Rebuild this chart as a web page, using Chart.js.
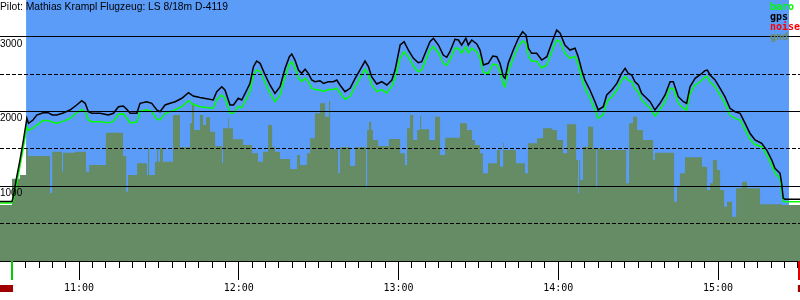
<!DOCTYPE html>
<html>
<head>
<meta charset="utf-8">
<title>Barogramm D-4119</title>
<script src="https://cdn.jsdelivr.net/npm/chart.js@4.4.1/dist/chart.umd.min.js"></script>
<style>
    html, body { margin: 0; padding: 0; background: #fff; }
    #wrap { width: 800px; height: 300px; }
</style>
</head>
<body>
<div id="wrap"><canvas id="baroChart" width="800" height="300"></canvas></div>
<script>
var pilotTitle = 'Pilot: Mathias Krampl Flugzeug: LS 8/18m D-4119';
var legendNames = ['baro', 'gps', 'noise', 'gnd'];
var hourTicks = ['11:00', '12:00', '13:00', '14:00', '15:00'];
var altTicks = [0, 1000, 2000, 3000];
var halfTicks = [500, 1500, 2500];

// times are minutes since midnight
var timeStart = 630.3, timeEnd = 930.8;
var altMax = 3495;
var flightStart = 640.1, flightEnd = 926.7;
var takeoffTime = 634.9, landingTime = 930.3;
var noiseSpans = [[630.3, 635.2], [930.0, 930.8]];

var trackTime = [
    630.3, 634.8, 635.3, 636.6, 637.8, 639.1, 640.4, 641.0, 642.7, 644.1,
    646.5, 648.4, 649.9, 651.6, 654.0, 656.6, 659.1, 661.0, 662.3, 663.5,
    664.8, 667.9, 671.0, 672.9, 674.8, 676.6, 677.9, 679.2, 681.7, 682.9,
    685.4, 687.3, 689.2, 690.4, 692.3, 694.2, 696.1, 698.6, 701.1, 702.9,
    705.4, 710.4, 711.7, 713.6, 714.8, 716.7, 718.0, 719.8, 721.1, 723.0,
    724.2, 725.5, 726.7, 728.0, 729.9, 731.7, 733.6, 735.5, 737.4, 739.0,
    739.9, 741.1, 742.4, 743.6, 744.9, 746.1, 747.4, 748.6, 750.5, 751.8,
    753.6, 755.5, 756.8, 758.0, 759.9, 761.8, 763.7, 765.5, 767.4, 768.7,
    769.9, 771.8, 773.7, 775.6, 777.5, 778.7, 780.6, 782.1, 783.7, 785.6,
    787.4, 788.7, 790.0, 791.8, 793.1, 795.0, 796.8, 798.1, 799.3, 801.2,
    802.5, 803.7, 805.3, 806.2, 807.5, 809.4, 810.6, 811.9, 813.7, 815.4,
    816.9, 818.1, 819.4, 820.0, 821.2, 823.1, 825.0, 826.6, 827.9, 828.8,
    830.0, 831.9, 833.8, 835.7, 837.5, 839.4, 840.7, 842.5, 844.4, 846.3,
    847.5, 848.8, 850.0, 851.9, 853.8, 855.0, 856.9, 858.2, 860.1, 862.0,
    863.8, 865.1, 866.3, 867.6, 868.8, 870.1, 871.3, 872.6, 874.5, 876.3,
    878.2, 880.1, 882.0, 883.2, 885.1, 887.0, 888.2, 889.5, 891.4, 893.2,
    895.1, 896.0, 897.0, 898.9, 900.8, 902.6, 904.5, 906.4, 908.3, 910.2,
    912.0, 913.9, 916.4, 918.3, 920.2, 921.4, 923.3, 923.9, 924.5, 925.2,
    930.8
];

var gpsAlt = [
    797, 797, 861, 1129, 1352, 1620, 1911, 1844, 1888, 1955,
    1986, 1986, 1955, 1955, 1982, 2022, 2089, 2146, 2112, 1999,
    1978, 1978, 1955, 1978, 2066, 2075, 2031, 1978, 1978, 2112,
    2133, 2112, 2022, 1999, 2089, 2112, 2133, 2179, 2254, 2209,
    2189, 2156, 2267, 2334, 2290, 2089, 2089, 2179, 2156, 2290,
    2379, 2602, 2678, 2647, 2491, 2357, 2245, 2334, 2580, 2736,
    2772, 2691, 2557, 2513, 2567, 2513, 2424, 2401, 2414, 2379,
    2401, 2401, 2424, 2357, 2267, 2312, 2446, 2557, 2678, 2602,
    2468, 2370, 2401, 2357, 2424, 2557, 2892, 2936, 2825, 2714,
    2655, 2669, 2781, 2936, 2982, 2892, 2758, 2728, 2803, 2969,
    2959, 2892, 2982, 2892, 2959, 2906, 2825, 2624, 2647, 2745,
    2736, 2647, 2468, 2446, 2647, 2825, 2982, 3070, 3026, 2848,
    2781, 2781, 2691, 2736, 2915, 3093, 3049, 2892, 2825, 2848,
    2736, 2557, 2424, 2290, 2133, 2022, 2066, 2223, 2290, 2379,
    2513, 2580, 2513, 2491, 2401, 2357, 2245, 2200, 2133, 2022,
    2112, 2223, 2401, 2401, 2200, 2133, 2112, 2334, 2446, 2491,
    2548, 2557, 2491, 2424, 2312, 2200, 2045, 1999, 1978, 1844,
    1710, 1620, 1576, 1486, 1352, 1241, 1174, 1040, 840, 826,
    826
];

var baroAlt = [
    777, 777, 817, 1044, 1272, 1526, 1798, 1750, 1780, 1821,
    1880, 1880, 1860, 1844, 1870, 1911, 1985, 2031, 2000, 1890,
    1865, 1865, 1850, 1870, 1965, 1970, 1915, 1850, 1860, 2005,
    2025, 2005, 1900, 1890, 1975, 2000, 2025, 2066, 2146, 2095,
    2066, 2045, 2160, 2223, 2180, 1978, 1980, 2070, 2050, 2180,
    2270, 2490, 2557, 2540, 2385, 2250, 2133, 2225, 2470, 2625,
    2669, 2585, 2450, 2405, 2446, 2405, 2315, 2295, 2290, 2270,
    2295, 2295, 2315, 2250, 2165, 2205, 2340, 2450, 2567, 2495,
    2360, 2267, 2295, 2250, 2340, 2450, 2714, 2803, 2730, 2610,
    2535, 2560, 2670, 2825, 2870, 2785, 2650, 2620, 2695, 2848,
    2850, 2785, 2870, 2785, 2850, 2800, 2715, 2525, 2510, 2635,
    2630, 2540, 2360, 2334, 2540, 2715, 2875, 2950, 2915, 2740,
    2675, 2675, 2585, 2625, 2800, 2959, 2935, 2780, 2714, 2740,
    2630, 2450, 2315, 2180, 2025, 1911, 1960, 2130, 2200, 2290,
    2420, 2468, 2420, 2400, 2310, 2265, 2155, 2110, 2045, 1942,
    2025, 2135, 2312, 2310, 2110, 2045, 2022, 2245, 2355, 2400,
    2460, 2468, 2400, 2335, 2220, 2110, 1955, 1910, 1888, 1755,
    1630, 1560, 1530, 1420, 1280, 1175, 1110, 951, 800, 794,
    794
];

// ground elevation under the track, each value holds until the next time
var gndTime = [
    630.3, 634.8, 637.8, 640.1, 640.8, 649.1, 649.9, 653.6, 654.0, 658.5,
    662.6, 663.8, 670.1, 676.5, 677.7, 678.4, 681.8, 685.5, 685.9, 686.3,
    688.5, 689.3, 689.7, 690.4, 691.5, 695.3, 697.9, 701.7, 702.4, 703.2,
    705.4, 706.6, 707.7, 709.2, 711.1, 713.7, 714.1, 716.0, 716.3, 717.8,
    721.6, 725.0, 727.2, 729.1, 731.0, 732.5, 733.6, 735.5, 739.3, 741.9,
    743.0, 745.6, 746.8, 748.6, 750.5, 752.4, 753.9, 754.3, 757.3, 758.0,
    761.8, 763.7, 767.8, 768.2, 768.9, 769.7, 770.4, 772.3, 776.4, 780.6,
    782.4, 783.2, 784.3, 785.5, 787.0, 788.1, 788.5, 791.5, 793.7, 795.6,
    797.5, 803.1, 805.7, 807.6, 808.7, 810.6, 811.7, 813.6, 817.0, 818.1,
    819.3, 819.6, 824.1, 827.5, 828.6, 832.0, 834.3, 837.7, 839.5, 841.8,
    843.3, 846.7, 847.4, 847.8, 848.2, 849.3, 851.2, 853.1, 854.2, 854.6,
    855.7, 857.2, 865.5, 866.6, 868.1, 869.6, 871.8, 875.6, 876.3, 883.5,
    884.6, 885.7, 887.6, 894.0, 895.9, 897.0, 898.1, 899.6, 900.8, 902.3,
    903.4, 905.3, 906.8, 909.0, 910.9, 915.8, 924.0, 930.8
];

var gndAlt = [
    750, 1100, 1150, 1496, 1406, 910, 1464, 1200, 1450, 1464,
    1196, 1285, 1718, 1406, 928, 1152, 1308, 1152, 1513, 1152,
    1330, 1513, 1330, 1513, 1330, 1955, 1522, 1844, 2116, 1754,
    1955, 1821, 1924, 1731, 1540, 1312, 1777, 1911, 1777, 1630,
    1553, 1442, 1330, 1464, 1821, 1530, 1464, 1366, 1232, 1419,
    1285, 1442, 1643, 1978, 2112, 1933, 2146, 1496, 1174, 1522,
    1272, 1522, 977, 1754, 1865, 1754, 1620, 1540, 1633, 1442,
    1285, 1777, 1955, 1620, 1754, 1941, 1763, 1620, 1933, 1419,
    1651, 1844, 1754, 1620, 1553, 1442, 1174, 1308, 1486, 1263,
    1580, 1486, 1308, 1174, 1576, 1643, 1777, 1754, 1620, 1442,
    1830, 1352, 910, 1352, 1085, 1530, 1798, 1509, 977, 1509,
    1517, 1486, 1040, 1844, 1932, 1754, 1620, 1352, 1450, 794,
    995, 1174, 1388, 1263, 951, 1040, 1352, 1218, 951, 727,
    794, 593, 973, 1062, 973, 759, 750, 750
];

var skyColor = '#5a9cf8';
var gndColor = '#658c64';
var legendColors = ['#00ff00', '#000000', '#ff0000', '#6e8c64'];

function toMinutes(label) {
    var p = label.split(':');
    return parseInt(p[0], 10) * 60 + parseInt(p[1], 10);
}

function minutesLabel(v) {
    var h = Math.floor(v / 60);
    var m = Math.round(v - h * 60);
    return h + ':' + (m < 10 ? '0' + m : m);
}

function points(times, values) {
    return times.map(function (t, i) {
        return { x: t, y: values[i] };
    });
}

function noPadding(axis) {
    axis.paddingLeft = 0;
    axis.paddingRight = 0;
    axis.paddingTop = 0;
    axis.paddingBottom = 0;
}

var overlayText = {
    id: 'overlayText',
    afterDraw: function (chart) {
        var ctx = chart.ctx;
        ctx.save();
        ctx.textAlign = 'left';
        ctx.textBaseline = 'alphabetic';
        ctx.fillStyle = '#000';
        ctx.font = '11px "Liberation Sans", Arial, sans-serif';
        ctx.fillText(pilotTitle, 0, 10, 228);
        ctx.font = 'bold 10px "DejaVu Sans Mono", monospace';
        legendNames.forEach(function (name, i) {
            ctx.fillStyle = legendColors[i];
            ctx.fillText(name, 770, 10 + i * 10, 30);
        });
        ctx.restore();
    }
};

var flightMarks = {
    id: 'flightMarks',
    afterDraw: function (chart) {
        var ctx = chart.ctx;
        var xs = chart.scales.x;
        var bottom = chart.chartArea.bottom;
        ctx.save();
        ctx.fillStyle = '#a00000';
        noiseSpans.forEach(function (s) {
            var a = xs.getPixelForValue(s[0]);
            var b = xs.getPixelForValue(s[1]);
            ctx.fillRect(a, bottom + 24, b - a, 7);
        });
        ctx.fillStyle = '#00d000';
        ctx.fillRect(Math.round(xs.getPixelForValue(takeoffTime)) - 1, bottom, 2, 19);
        ctx.fillStyle = '#e00000';
        ctx.fillRect(Math.round(xs.getPixelForValue(landingTime)) - 1, bottom, 2, 19);
        ctx.restore();
    }
};

var baroChart = new Chart(document.getElementById('baroChart'), {
    type: 'line',
    data: {
        datasets: [{
            label: 'gps',
            data: points(trackTime, gpsAlt),
            borderColor: '#000000',
            borderWidth: 1.5,
            pointRadius: 0,
            fill: false,
            order: 1
        }, {
            label: 'baro',
            data: points(trackTime, baroAlt),
            borderColor: '#00ff00',
            borderWidth: 1.5,
            pointRadius: 0,
            fill: false,
            order: 2
        }, {
            label: 'gnd',
            data: points(gndTime, gndAlt),
            stepped: true,
            borderColor: 'transparent',
            borderWidth: 0,
            backgroundColor: gndColor,
            pointRadius: 0,
            fill: 'origin',
            order: 3
        }, {
            label: 'sky',
            data: points([flightStart, flightEnd], [altMax, altMax]),
            borderColor: 'transparent',
            borderWidth: 0,
            backgroundColor: skyColor,
            pointRadius: 0,
            fill: 'origin',
            order: 4
        }]
    },
    options: {
        responsive: false,
        animation: false,
        devicePixelRatio: 1,
        events: [],
        layout: { padding: 0 },
        plugins: {
            legend: { display: false },
            tooltip: { enabled: false },
            title: { display: false }
        },
        scales: {
            x: {
                type: 'linear',
                position: 'bottom',
                weight: 0,
                min: timeStart,
                max: timeEnd,
                afterBuildTicks: function (axis) {
                    var ticks = [];
                    for (var m = Math.ceil(timeStart / 5) * 5; m <= timeEnd; m += 5) {
                        ticks.push({ value: m });
                    }
                    axis.ticks = ticks;
                },
                afterFit: function (axis) {
                    axis.height = 0;
                    noPadding(axis);
                },
                ticks: { display: false },
                grid: { drawOnChartArea: false, drawTicks: true, tickLength: 7, tickColor: '#000', tickWidth: 1 },
                border: { display: true, color: '#000', width: 1 }
            },
            xh: {
                type: 'linear',
                position: 'bottom',
                weight: 1,
                min: timeStart,
                max: timeEnd,
                afterBuildTicks: function (axis) {
                    axis.ticks = hourTicks.map(function (h) {
                        return { value: toMinutes(h) };
                    });
                },
                afterFit: function (axis) {
                    axis.height = 39;
                    noPadding(axis);
                },
                ticks: {
                    autoSkip: false,
                    maxRotation: 0,
                    padding: 2,
                    color: '#000',
                    font: { family: '"DejaVu Sans Mono", monospace', size: 10 },
                    callback: function (v) { return minutesLabel(v); }
                },
                grid: { drawOnChartArea: false, drawTicks: true, tickLength: 19, tickColor: '#000', tickWidth: 1 },
                border: { display: true, color: '#000', width: 1 }
            },
            y: {
                type: 'linear',
                position: 'left',
                min: 0,
                max: altMax,
                afterBuildTicks: function (axis) {
                    axis.ticks = altTicks.map(function (v) { return { value: v }; });
                },
                afterFit: function (axis) {
                    axis.width = 0;
                    noPadding(axis);
                },
                ticks: {
                    mirror: true,
                    padding: 0,
                    labelOffset: 7,
                    color: '#000',
                    z: 2,
                    font: { family: '"Liberation Sans", Arial, sans-serif', size: 10 },
                    callback: function (v) { return v === 0 ? '' : String(v); }
                },
                grid: { color: '#000', lineWidth: 1, drawTicks: false, z: 1 },
                border: { display: false }
            },
            yd: {
                type: 'linear',
                position: 'left',
                min: 0,
                max: altMax,
                afterBuildTicks: function (axis) {
                    axis.ticks = halfTicks.map(function (v) { return { value: v }; });
                },
                afterFit: function (axis) {
                    axis.width = 0;
                    noPadding(axis);
                },
                ticks: { display: false },
                grid: { color: '#000', lineWidth: 1, drawTicks: false, z: 1 },
                border: { display: false, dash: [4, 2] }
            }
        }
    },
    plugins: [overlayText, flightMarks]
});
</script>
</body>
</html>
